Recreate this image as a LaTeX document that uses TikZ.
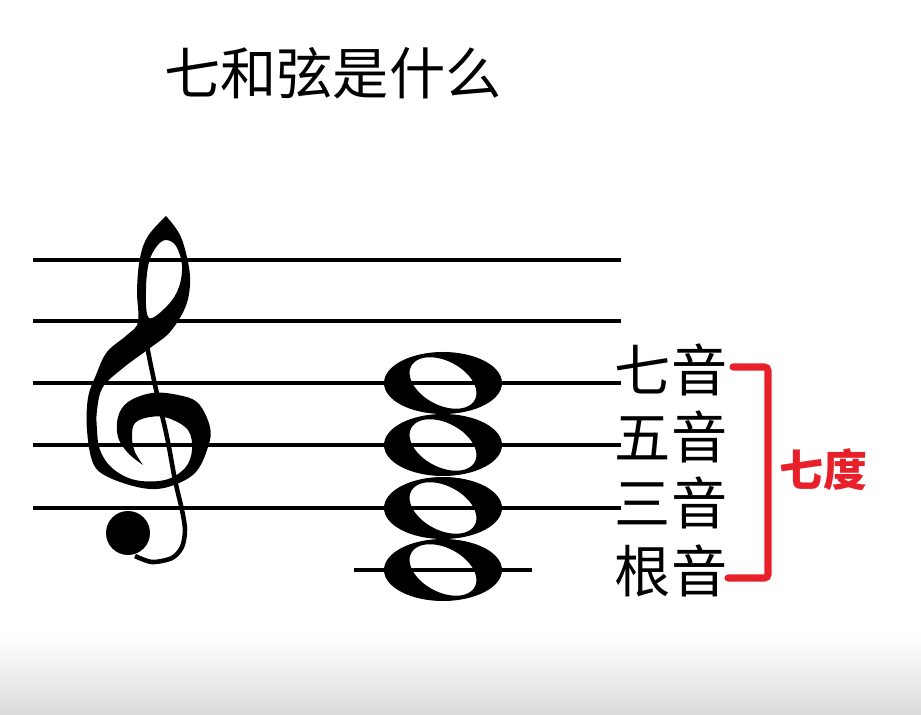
\documentclass[tikz,border=0pt]{standalone}
\usepackage{fontspec}
\setmainfont{Noto Sans CJK SC}
\usetikzlibrary{positioning}
\definecolor{chordred}{HTML}{E8202A}

\begin{document}
\begin{tikzpicture}[
    x=0.02cm, y=-0.02cm,
    staffline/.style={line width=2.8pt, black},
    tone/.style={inner sep=0pt, font=\fontsize{32}{32}\selectfont},
    bracket/.style={line width=4pt, chordred, line cap=round, rounded corners=2pt},
    wholenote/.pic={
      \fill[even odd rule] (0,0) ellipse (59 and 31)
        plot[domain=0:360, samples=72, smooth cycle, variable=\t]
          ({36*cos(\t)*cos(28)-22*sin(\t)*sin(28)}, {36*cos(\t)*sin(28)+22*sin(\t)*cos(28)});
    }
  ]
  \useasboundingbox (0,0) rectangle (921,715);
  \shade[top color=white, bottom color=black!14] (0,635) rectangle (921,715);

  \node[inner sep=0pt, font=\fontsize{32}{32}\selectfont] (title) at (333,73) {七和弦是什么};

  % staff and ledger line
  \foreach \y in {260,321,383,445,508}
    \draw[staffline] (33,\y) -- (621,\y);
  \draw[staffline] (354,570) -- (532,570);

  % treble clef
  \fill[even odd rule]
    plot[smooth, tension=0.6] coordinates {(166,216) (180,235) (188,262) (190,285)
      (185,308) (170,332) (150,348) (123,368) (103,387) (97,410) (97,430) (100,450)
      (112,468) (135,480) (165,480) (185,468) (192,450) (188,430) (168,418) (150,417)
      (135,423) (132,437) (135,452) (143,465)}
    -- plot[smooth, tension=0.6] coordinates {(143,465) (128,453) (118,437) (118,417)
      (128,402) (152,393) (178,395) (198,403) (210,427) (208,447) (195,473) (168,487)
      (142,488) (108,477) (93,463) (87,430) (88,398) (96,375) (107,352) (127,335)
      (138,322) (137,290) (140,258) (148,236) (166,216)} -- cycle
    plot[smooth cycle, tension=0.6] coordinates {(149,318) (146,290) (149,262) (157,246)
      (166,240) (176,246) (182,265) (179,287) (168,305)};
  \draw[line width=2.6pt] plot[smooth] coordinates {(141,300) (146,340) (155,385)
    (167,437) (175,480) (182,510) (185,530) (182,547) (172,558) (152,562) (135,556)};
  \fill (128,533) circle (22);

  % chord
  \foreach \y in {383,445,508,570}
    \pic at (443,\y) {wholenote};

  \node[tone] (seventh) at (671,370) {七音};
  \node[tone] (fifth) at (671,437) {五音};
  \node[tone] (third) at (671,503) {三音};
  \node[tone] (root) at (671,571) {根音};

  \coordinate (brtop) at (733,367);
  \coordinate (brbot) at (728,578);
  \draw[bracket] (brtop) -- (768,367) -- (768,578) -- (brbot);
  \node[inner sep=0pt, text=chordred, font=\fontsize{25}{25}\selectfont\bfseries]
    (interval) at (823,470) {七度};
\end{tikzpicture}
\end{document}
